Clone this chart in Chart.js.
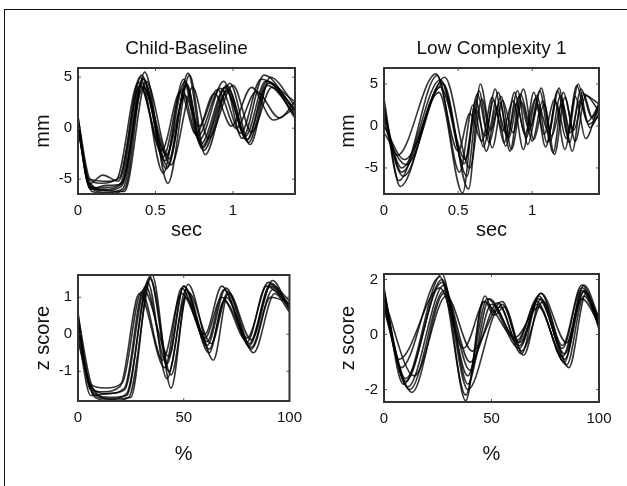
<!DOCTYPE html>
<html lang="en">
<head>
<meta charset="UTF-8">
<title>Child-Baseline vs Low Complexity 1</title>
<script src="https://cdn.jsdelivr.net/npm/chart.js"></script>
<style>
    body { margin: 0; background: #fff; width: 627px; height: 486px; overflow: hidden; position: relative; }
    .frame { position: absolute; left: 4px; top: 9px; width: 700px; height: 600px; border-left: 1px solid #111; border-top: 1px solid #111; }
    .panel { position: absolute; }
</style>
</head>
<body>
<div class="frame"></div>
<div class="panel" style="left:0; top:0;"><canvas id="cbSec" width="310" height="250"></canvas></div>
<div class="panel" style="left:310px; top:0;"><canvas id="lcSec" width="317" height="250"></canvas></div>
<div class="panel" style="left:0; top:250px;"><canvas id="cbPct" width="310" height="236"></canvas></div>
<div class="panel" style="left:310px; top:250px;"><canvas id="lcPct" width="317" height="236"></canvas></div>

<script>
// ---- Child-Baseline, displacement (mm) over time (sec) ----
const cbSecTimes = [
    [0, 0.07, 0.17, 0.27, 0.41, 0.56, 0.69, 0.79, 0.95, 1.08, 1.21, 1.40],
    [0, 0.08, 0.19, 0.29, 0.42, 0.57, 0.70, 0.80, 0.96, 1.09, 1.22, 1.40],
    [0, 0.06, 0.15, 0.25, 0.39, 0.55, 0.67, 0.77, 0.92, 1.05, 1.18, 1.40],
    [0, 0.09, 0.20, 0.30, 0.43, 0.58, 0.72, 0.82, 0.98, 1.11, 1.24, 1.40],
    [0, 0.07, 0.16, 0.26, 0.40, 0.54, 0.66, 0.76, 0.88, 0.99, 1.12, 1.26, 1.40],
    [0, 0.08, 0.18, 0.28, 0.42, 0.60, 0.74, 0.84, 1.00, 1.12, 1.25, 1.40],
    [0, 0.07, 0.17, 0.30, 0.44, 0.59, 0.71, 0.81, 0.97, 1.10, 1.23, 1.40],
    [0, 0.08, 0.20, 0.27, 0.40, 0.55, 0.68, 0.78, 0.94, 1.06, 1.20, 1.40],
    [0, 0.07, 0.18, 0.28, 0.41, 0.57, 0.69, 0.78, 0.90, 1.02, 1.15, 1.30, 1.40],
    [0, 0.08, 0.18, 0.29, 0.42, 0.58, 0.70, 0.80, 0.96, 1.09, 1.22, 1.40]
];
const cbSecValues = [
    [0.8, -5.2, -6.0, -5.6, 5.2, -3.2, 4.6, -1.6, 4.0, -0.8, 4.6, 1.8],
    [0.2, -5.8, -6.3, -5.9, 4.8, -4.0, 4.2, -2.0, 3.6, -1.2, 4.2, 1.4],
    [1.2, -4.8, -5.4, -5.0, 4.5, -2.8, 3.8, -0.8, 3.9, -0.5, 4.8, 2.6],
    [-0.2, -6.2, -6.4, -6.0, 5.5, -5.4, 5.2, -2.6, 4.4, -1.6, 5.0, 2.2],
    [0.6, -5.5, -4.6, -5.2, 4.2, -2.2, 3.6, -0.6, 3.4, 0.2, 4.0, 0.8, 2.0],
    [0.0, -6.0, -5.6, -5.5, 4.0, -3.6, 4.0, -1.0, 4.2, -0.4, 4.0, 1.0],
    [0.4, -5.4, -6.1, -6.2, 4.6, -3.0, 5.4, -2.2, 3.8, -1.4, 4.4, 1.2],
    [1.0, -5.0, -5.2, -4.8, 5.0, -4.4, 4.8, -1.2, 4.6, -1.0, 5.2, 1.6],
    [0.3, -5.6, -6.1, -5.7, 4.4, -2.6, 3.2, 0.2, 3.8, 0.0, 3.6, 1.0, 2.6],
    [0.5, -5.9, -5.8, -5.2, 4.9, -3.8, 4.4, -1.8, 4.2, -1.1, 4.6, 1.9]
];

// ---- Low Complexity 1, displacement (mm) over time (sec) ----
const lcSecTimes = [
    [0, 0.12, 0.38, 0.54, 0.63, 0.70, 0.77, 0.84, 0.91, 0.98, 1.05, 1.12, 1.19, 1.26, 1.33, 1.40, 1.45],
    [0, 0.10, 0.36, 0.51, 0.60, 0.67, 0.74, 0.81, 0.88, 0.95, 1.02, 1.09, 1.16, 1.23, 1.30, 1.37, 1.45],
    [0, 0.14, 0.40, 0.57, 0.65, 0.72, 0.79, 0.86, 0.93, 1.00, 1.07, 1.14, 1.21, 1.28, 1.35, 1.45],
    [0, 0.11, 0.37, 0.53, 0.62, 0.69, 0.76, 0.83, 0.90, 0.97, 1.04, 1.11, 1.18, 1.25, 1.32, 1.39, 1.45],
    [0, 0.09, 0.35, 0.50, 0.58, 0.66, 0.73, 0.80, 0.87, 0.94, 1.01, 1.08, 1.15, 1.22, 1.29, 1.36, 1.45],
    [0, 0.13, 0.39, 0.56, 0.64, 0.71, 0.78, 0.85, 0.92, 0.99, 1.06, 1.13, 1.20, 1.27, 1.34, 1.41, 1.45],
    [0, 0.12, 0.38, 0.55, 0.62, 0.68, 0.75, 0.82, 0.89, 0.96, 1.03, 1.10, 1.17, 1.24, 1.31, 1.38, 1.45],
    [0, 0.15, 0.41, 0.58, 0.66, 0.73, 0.80, 0.87, 0.94, 1.01, 1.08, 1.15, 1.22, 1.29, 1.36, 1.45]
];
const lcSecValues = [
    [1.0, -5.0, 5.5, -4.5, 3.8, -1.0, 4.0, -1.5, 3.5, -0.5, 4.2, -1.8, 3.6, -0.8, 4.4, 1.0, 2.2],
    [2.5, -6.5, 6.0, -5.5, 2.5, -2.5, 3.0, -2.0, 4.0, -1.0, 3.2, -2.5, 2.8, -1.5, 4.8, 0.5, 2.5],
    [0.0, -4.0, 5.0, -7.5, 5.0, -0.5, 3.5, -2.8, 2.8, -1.8, 3.0, -3.2, 4.0, -0.5, 3.8, 1.8],
    [3.2, -7.2, 4.0, -8.0, 3.0, -3.0, 2.2, -1.2, 4.2, -2.2, 2.5, -0.8, 4.5, -2.0, 3.0, -0.2, 1.5],
    [1.8, -3.5, 6.2, -3.0, 1.5, -1.8, 3.4, -0.6, 3.0, -2.8, 4.0, -1.0, 3.2, -2.8, 3.5, -1.5, 2.8],
    [0.5, -6.0, 5.2, -6.0, 4.2, -2.0, 2.8, -3.0, 3.8, 0.0, 4.5, -1.2, 2.6, -3.0, 4.0, 0.8, 2.0],
    [1.4, -5.5, 4.6, -4.0, 2.0, -1.2, 4.4, -2.4, 2.6, -1.4, 3.6, -2.0, 4.2, -1.0, 5.0, 0.2, 1.2],
    [-0.8, -4.6, 5.8, -5.0, 3.2, -2.6, 3.0, -0.8, 4.4, -1.6, 2.6, -3.4, 3.4, -1.8, 3.6, 2.6]
];

// ---- Child-Baseline, z score over normalized time (%) ----
const cbPctTimes = [
    [0, 6, 14, 22, 32, 42, 50, 61, 69, 81, 91, 100],
    [0, 7, 15, 23, 34, 43, 51, 62, 70, 82, 92, 100],
    [0, 5, 13, 21, 30, 40, 49, 60, 68, 80, 90, 100],
    [0, 8, 16, 24, 35, 44, 52, 64, 71, 83, 93, 100],
    [0, 6, 12, 20, 29, 41, 49, 60, 68, 80, 89, 100],
    [0, 7, 15, 23, 33, 42, 51, 61, 70, 81, 91, 100],
    [0, 6, 14, 22, 31, 43, 50, 62, 69, 82, 91, 100],
    [0, 7, 16, 25, 34, 44, 52, 63, 71, 82, 92, 100]
];
const cbPctValues = [
    [0.3, -1.4, -1.6, -1.5, 1.3, -0.8, 1.3, -0.2, 1.2, -0.3, 1.3, 0.8],
    [0.1, -1.6, -1.75, -1.6, 1.55, -1.0, 1.2, -0.4, 1.0, -0.4, 1.2, 0.7],
    [0.6, -1.3, -1.45, -1.3, 1.15, -0.7, 1.1, 0.0, 1.3, -0.1, 1.4, 0.9],
    [-0.2, -1.7, -1.8, -1.7, 1.6, -1.45, 1.35, -0.7, 1.1, -0.5, 1.1, 0.6],
    [0.4, -1.5, -1.55, -1.4, 1.1, -0.9, 1.25, -0.1, 1.0, -0.2, 1.3, 0.8],
    [0.2, -1.55, -1.7, -1.65, 1.4, -1.2, 1.0, -0.3, 1.25, -0.25, 1.35, 0.75],
    [0.0, -1.65, -1.6, -1.45, 1.2, -0.6, 1.3, -0.5, 0.9, -0.35, 1.0, 0.85],
    [0.5, -1.45, -1.75, -1.7, 1.5, -1.1, 1.15, -0.25, 1.15, -0.15, 1.45, 0.65]
];

// ---- Low Complexity 1, z score over normalized time (%) ----
const lcPctTimes = [
    [0, 10, 27, 39, 48, 63, 72, 84, 93, 100],
    [0, 8, 26, 38, 47, 51, 55, 63, 73, 83, 92, 100],
    [0, 12, 28, 40, 53, 64, 71, 85, 93, 100],
    [0, 9, 27, 38, 46, 62, 72, 83, 92, 100],
    [0, 14, 29, 41, 55, 64, 74, 86, 94, 100],
    [0, 11, 28, 39, 49, 61, 72, 83, 92, 100],
    [0, 7, 26, 37, 47, 51, 56, 65, 73, 84, 93, 100],
    [0, 13, 28, 40, 50, 63, 73, 85, 93, 100],
    [0, 10, 27, 39, 54, 62, 71, 84, 92, 100]
];
const lcPctValues = [
    [1.5, -1.6, 1.9, -1.5, 1.3, -0.5, 1.3, -0.7, 1.6, 0.4],
    [1.2, -1.2, 2.1, -2.2, 1.4, 0.8, 1.1, -0.3, 1.5, -0.4, 1.8, 0.5],
    [0.9, -2.0, 1.6, -1.0, 1.15, -0.7, 1.1, -1.1, 1.4, 0.3],
    [1.7, -1.8, 2.2, -2.4, 1.2, -0.2, 1.4, -0.5, 1.7, 0.6],
    [1.3, -1.5, 1.4, -0.6, 1.2, -0.6, 1.2, -1.2, 1.5, 0.2],
    [1.1, -1.9, 1.8, -1.8, 1.3, -0.1, 1.0, -0.8, 1.3, 0.4],
    [1.6, -0.9, 1.7, -0.5, 1.2, 0.7, 1.0, -0.75, 1.3, -0.9, 1.55, 0.45],
    [1.0, -2.1, 1.5, -1.3, 1.1, -0.4, 1.5, -0.3, 1.8, 0.6],
    [1.4, -1.7, 2.0, -2.0, 1.0, -0.3, 1.2, -1.0, 1.6, 0.35]
];

// tick labels
const secTicks = [0, 0.5, 1];
const pctTicks = [0, 50, 100];
const mmTicksCb = [-5, 0, 5];
const mmTicksLc = [-5, 0, 5];
const zTicksCb = [-1, 0, 1];
const zTicksLc = [-2, 0, 2];

const FONT = '"Liberation Sans", Arial, Helvetica, sans-serif';
const INK = '#111';

// box around the plot area with small inward ticks (matlab style)
const boxPlugin = {
    id: 'box',
    afterDatasetsDraw(chart) {
        const { ctx, chartArea: a, scales } = chart;
        ctx.save();
        ctx.strokeStyle = '#555';
        ctx.lineWidth = 1;
        scales.x.ticks.forEach(t => {
            const px = scales.x.getPixelForValue(t.value);
            ctx.beginPath();
            ctx.moveTo(px, a.bottom); ctx.lineTo(px, a.bottom - 3);
            ctx.moveTo(px, a.top); ctx.lineTo(px, a.top + 3);
            ctx.stroke();
        });
        scales.y.ticks.forEach(t => {
            const py = scales.y.getPixelForValue(t.value);
            ctx.beginPath();
            ctx.moveTo(a.left, py); ctx.lineTo(a.left + 3, py);
            ctx.moveTo(a.right, py); ctx.lineTo(a.right - 3, py);
            ctx.stroke();
        });
        ctx.strokeStyle = '#333';
        ctx.lineWidth = 2;
        ctx.strokeRect(a.left, a.top, a.right - a.left, a.bottom - a.top);
        ctx.restore();
    }
};

function buildDatasets(times, values) {
    return times.map((ts, i) => ({
        data: ts.map((t, j) => ({ x: t, y: values[i][j] })),
        borderColor: 'rgba(0,0,0,0.8)',
        borderWidth: 1.6,
        pointRadius: 0,
        fill: false,
        cubicInterpolationMode: 'monotone'
    }));
}

function makePanel(id, cfg) {
    const ctx = document.getElementById(id).getContext('2d');
    return new Chart(ctx, {
        type: 'line',
        data: { datasets: buildDatasets(cfg.times, cfg.values) },
        options: {
            responsive: false,
            animation: false,
            events: [],
            layout: { padding: { left: 0, right: cfg.padRight, top: cfg.padTop, bottom: 0 } },
            plugins: {
                legend: { display: false },
                tooltip: { enabled: false },
                title: {
                    display: !!cfg.title,
                    text: cfg.title,
                    fullSize: false,
                    color: INK,
                    font: { family: FONT, size: 19, weight: 'normal' },
                    padding: { top: 37, bottom: 8.2 }
                }
            },
            scales: {
                x: {
                    type: 'linear',
                    min: cfg.xMin,
                    max: cfg.xMax,
                    grid: { display: false, drawTicks: false },
                    border: { display: false },
                    afterBuildTicks: s => { s.ticks = cfg.xTicks.map(v => ({ value: v })); },
                    afterFit: s => { s.height = cfg.xHeight; },
                    ticks: {
                        color: INK, padding: 8, maxRotation: 0, autoSkip: false,
                        font: { family: FONT, size: 15 },
                        callback: v => String(v)
                    },
                    title: {
                        display: true, text: cfg.xTitle, color: INK,
                        font: { family: FONT, size: 20 },
                        padding: { top: 0, bottom: cfg.xTitlePad }
                    }
                },
                y: {
                    min: cfg.yMin,
                    max: cfg.yMax,
                    grid: { display: false, drawTicks: false },
                    border: { display: false },
                    afterBuildTicks: s => { s.ticks = cfg.yTicks.map(v => ({ value: v })); },
                    afterFit: s => { s.width = cfg.yWidth; },
                    ticks: {
                        color: INK, padding: 6, autoSkip: false,
                        font: { family: FONT, size: 15 },
                        callback: v => String(v)
                    },
                    title: {
                        display: true, text: cfg.yTitle, color: INK,
                        font: { family: FONT, size: 20 },
                        padding: { top: cfg.yTitlePad, bottom: 0 }
                    }
                }
            }
        },
        plugins: [boxPlugin]
    });
}

makePanel('cbSec', {
    title: 'Child-Baseline', times: cbSecTimes, values: cbSecValues,
    xMin: 0, xMax: 1.4, yMin: -6.45, yMax: 5.9, xTicks: secTicks, yTicks: mmTicksCb,
    xTitle: 'sec', yTitle: 'mm', padRight: 15, padTop: 0, xHeight: 56, xTitlePad: 8,
    yWidth: 78, yTitlePad: 31
});
makePanel('lcSec', {
    title: 'Low Complexity 1', times: lcSecTimes, values: lcSecValues,
    xMin: 0, xMax: 1.45, yMin: -8.1, yMax: 6.9, xTicks: secTicks, yTicks: mmTicksLc,
    xTitle: 'sec', yTitle: 'mm', padRight: 28, padTop: 0, xHeight: 56, xTitlePad: 8,
    yWidth: 74, yTitlePad: 26
});
makePanel('cbPct', {
    title: '', times: cbPctTimes, values: cbPctValues,
    xMin: 0, xMax: 100, yMin: -1.8, yMax: 1.6, xTicks: pctTicks, yTicks: zTicksCb,
    xTitle: '%', yTitle: 'z score', padRight: 15, padTop: 25, xHeight: 85, xTitlePad: 20,
    yWidth: 78, yTitlePad: 31
});
makePanel('lcPct', {
    title: '', times: lcPctTimes, values: lcPctValues,
    xMin: 0, xMax: 100, yMin: -2.45, yMax: 2.2, xTicks: pctTicks, yTicks: zTicksLc,
    xTitle: '%', yTitle: 'z score', padRight: 28, padTop: 24, xHeight: 84, xTitlePad: 20,
    yWidth: 74, yTitlePad: 26
});
</script>
</body>
</html>
